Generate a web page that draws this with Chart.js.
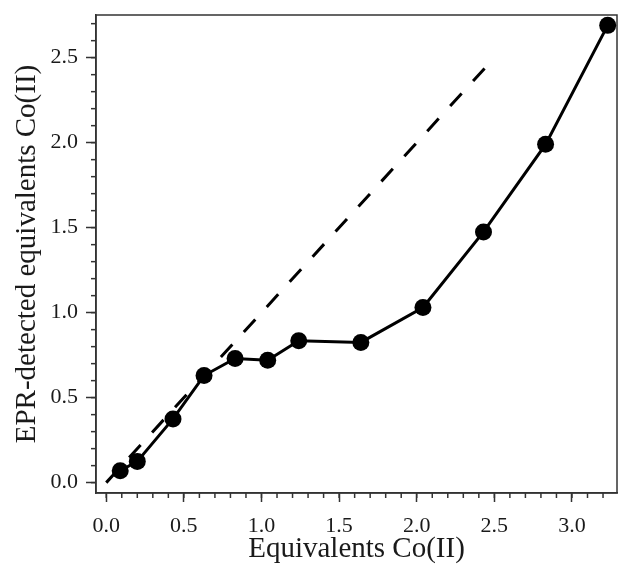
<!DOCTYPE html>
<html>
<head>
<meta charset="utf-8">
<script src="https://cdn.jsdelivr.net/npm/chart.js@4"></script>
<style>
body{margin:0;background:#fff;}
</style>
</head>
<body>
<canvas id="chart" width="618" height="568"></canvas>
<script>

// measured titration points
const equivAdded = [0.09, 0.20, 0.43, 0.63, 0.83, 1.04, 1.24, 1.64, 2.04, 2.43, 2.83, 3.23];
const eprDetected = [0.07, 0.125, 0.375, 0.63, 0.73, 0.72, 0.835, 0.825, 1.03, 1.475, 1.99, 2.69];

// dashed 1:1 reference line
const idealX = [0, 2.44];
const idealY = [0, 2.44];

const xTicks = [0, 0.5, 1.0, 1.5, 2.0, 2.5, 3.0];
const yTicks = [0, 0.5, 1.0, 1.5, 2.0, 2.5];

const serif = "'Liberation Serif', 'Times New Roman', serif";
const ink = "#1a1a1a";
const axisCol = "#333";

// frame + minor ticks every 0.1
const framePlugin = {
id: "frame",
beforeDatasetsDraw(chart){
const {ctx, chartArea:a, scales} = chart;
ctx.save();
ctx.strokeStyle = axisCol;
ctx.lineWidth = 1.5;
ctx.strokeRect(a.left, a.top, a.right - a.left, a.bottom - a.top);

for(let i = 0; i <= 40; i++){
const v = i / 10;
const px = scales.x.getPixelForValue(v);
if(px >= a.left && px <= a.right){
ctx.beginPath();
ctx.moveTo(px, a.bottom);
ctx.lineTo(px, a.bottom + 5);
ctx.stroke();
}
const py = scales.y.getPixelForValue(v);
if(py >= a.top && py <= a.bottom){
ctx.beginPath();
ctx.moveTo(a.left, py);
ctx.lineTo(a.left - 5, py);
ctx.stroke();
}
}
ctx.restore();
}
};

const ctx = document.getElementById("chart");

new Chart(ctx,{
type:"scatter",
data:{
datasets:[
{
label:"EPR",
data:equivAdded.map((x,i) => ({x:x, y:eprDetected[i]})),
showLine:true,
borderColor:"#000",
backgroundColor:"#000",
borderWidth:3,
pointRadius:8.5,
pointBorderWidth:0,
tension:0,
clip:false
},
{
label:"ideal",
data:idealX.map((x,i) => ({x:x, y:idealY[i]})),
showLine:true,
borderColor:"#000",
borderWidth:3,
borderDash:[17,17],
pointRadius:0
}
]
},
options:{
responsive:false,
animation:false,
layout:{autoPadding:false, padding:{top:15, right:1, bottom:0, left:0}},
plugins:{
legend:{display:false},
tooltip:{enabled:false}
},
scales:{
x:{
type:"linear",
position:"bottom",
min:-0.066,
max:3.29,
afterBuildTicks:s => { s.ticks = xTicks.map(v => ({value:v})); },
afterFit:s => { s.height = 75; s.paddingLeft = 0; s.paddingRight = 0; },
ticks:{
callback:v => v.toFixed(1),
font:{family:serif, size:22},
color:ink,
padding:11,
maxRotation:0,
autoSkip:false
},
grid:{drawOnChartArea:false, tickLength:9, tickWidth:1.5, tickColor:axisCol},
border:{color:axisCol, width:1.5},
title:{
display:true,
text:"Equivalents Co(II)",
font:{family:serif, size:29},
color:ink,
padding:{top:0, bottom:1}
}
},
y:{
type:"linear",
min:-0.061,
max:2.751,
afterBuildTicks:s => { s.ticks = yTicks.map(v => ({value:v})); },
afterFit:s => { s.width = 96; s.paddingTop = 0; s.paddingBottom = 0; },
ticks:{
callback:v => v.toFixed(1),
font:{family:serif, size:22},
color:ink,
padding:8,
autoSkip:false
},
grid:{drawOnChartArea:false, tickLength:10, tickWidth:1.5, tickColor:axisCol},
border:{color:axisCol, width:1.5},
title:{
display:true,
text:"EPR-detected equivalents Co(II)",
font:{family:serif, size:29},
color:ink,
padding:{top:10, bottom:0}
}
}
}
},
plugins:[framePlugin]
});

</script>
</body>
</html>
